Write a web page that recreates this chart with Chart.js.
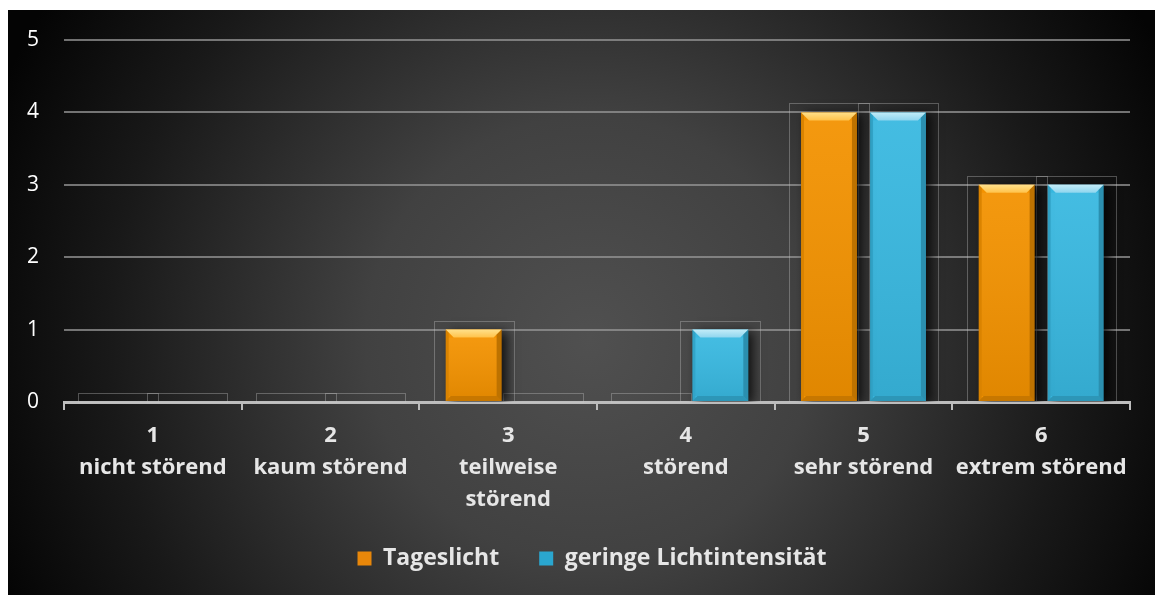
<!DOCTYPE html>
<html><head><meta charset="utf-8">
<script src="https://cdn.jsdelivr.net/npm/chart.js@4"></script>
<style>html,body{margin:0;padding:0;background:#fff;overflow:hidden}</style>
</head><body>
<canvas id="c" width="1155" height="595" style="display:block;width:1155px;height:595px"></canvas>
<script>
const categories = [["1","nicht störend"],["2","kaum störend"],["3","teilweise","störend"],["4","störend"],["5","sehr störend"],["6","extrem störend"]];
const seriesNames = ["Tageslicht","geringe Lichtintensität"];
const tageslicht = [0,0,1,0,4,3];
const geringeLicht = [0,0,0,1,4,3];
const yMin = 0, yMax = 5, yStep = 1;

const FONT = "'Open Sans', 'DejaVu Sans', sans-serif";
const colors = [
  {base:'#f39200', top:'#ffc24a', topEdge:'#ffe08a', legend:'#e8870a'},
  {base:'#38b8e0', top:'#8fd5ee', topEdge:'#c2ecf8', legend:'#2aa6cf'}
];

const bgPlugin = {
  id:'bg',
  beforeDraw(chart){
    const c = chart.ctx;
    c.save();
    c.fillStyle = '#ffffff';
    c.fillRect(0,0,chart.width,chart.height);
    const g = c.createRadialGradient(590,340,0,590,340,640);
    g.addColorStop(0,'#505050');
    g.addColorStop(0.35,'#414141');
    g.addColorStop(0.75,'#191919');
    g.addColorStop(1,'#040404');
    c.fillStyle = g;
    c.fillRect(8,10,chart.width-8,chart.height-10);
    c.restore();
  },
  afterLayout(chart){
    const lg = chart.legend;
    if (lg) { lg.left += 23; lg.right += 23; }
  }
};

const barFx = {
  id:'barFx',
  beforeDatasetsDraw(chart){
    const c = chart.ctx;
    c.save();
    c.strokeStyle = 'rgba(200,200,200,0.35)';
    c.lineWidth = 1;
    chart.data.datasets.forEach((ds,i)=>{
      chart.getDatasetMeta(i).data.forEach(el=>{
        const p = el.getProps(['x','y','base','width'], true);
        const l = p.x - p.width/2 - 12, r = p.x + p.width/2 + 12;
        const t = Math.min(p.y, p.base) - 9;
        c.strokeRect(Math.round(l)+0.5, Math.round(t)+0.5, Math.round(r-l), Math.round(p.base - t));
      });
    });
    c.restore();
    c.save();
    c.shadowColor = 'rgba(0,0,0,0.75)';
    c.shadowBlur = 10;
    c.shadowOffsetX = 5;
    c.shadowOffsetY = 2;
  },
  afterDatasetsDraw(chart){
    const c = chart.ctx;
    c.restore();
    c.save();
    chart.data.datasets.forEach((ds,i)=>{
      const col = colors[i];
      chart.getDatasetMeta(i).data.forEach(el=>{
        const p = el.getProps(['x','y','base','width'], true);
        const h = p.base - p.y;
        if (h < 2) return;
        const l = p.x - p.width/2, r = p.x + p.width/2, t = p.y, b = p.base;
        const bv = 8;
        const tg = c.createLinearGradient(0,t,0,t+bv);
        tg.addColorStop(0,col.topEdge);
        tg.addColorStop(1,col.top);
        c.fillStyle = tg;
        c.beginPath();
        c.moveTo(l,t); c.lineTo(r,t); c.lineTo(r-bv,t+bv); c.lineTo(l+bv,t+bv); c.closePath(); c.fill();
        c.fillStyle = 'rgba(0,0,0,0.10)';
        c.beginPath();
        c.moveTo(l,t); c.lineTo(l+3,t+3); c.lineTo(l+3,b-3); c.lineTo(l,b); c.closePath(); c.fill();
        c.fillStyle = 'rgba(0,0,0,0.22)';
        c.beginPath();
        c.moveTo(r,t); c.lineTo(r-5,t+5); c.lineTo(r-5,b-5); c.lineTo(r,b); c.closePath(); c.fill();
        c.fillStyle = 'rgba(0,0,0,0.18)';
        c.beginPath();
        c.moveTo(l,b); c.lineTo(l+5,b-5); c.lineTo(r-5,b-5); c.lineTo(r,b); c.closePath(); c.fill();
        const fg = c.createLinearGradient(0,t+bv,0,b);
        fg.addColorStop(0,'rgba(255,255,255,0.06)');
        fg.addColorStop(1,'rgba(0,0,0,0.08)');
        c.fillStyle = fg;
        c.fillRect(l+3,t+bv,r-l-8,b-t-bv-5);
      });
    });
    c.restore();
  }
};

new Chart(document.getElementById('c'), {
  type:'bar',
  data:{
    labels: categories,
    datasets:[
      {label:seriesNames[0], data:tageslicht, backgroundColor:colors[0].base, borderWidth:0, barPercentage:0.81, categoryPercentage:0.777},
      {label:seriesNames[1], data:geringeLicht, backgroundColor:colors[1].base, borderWidth:0, barPercentage:0.81, categoryPercentage:0.777}
    ]
  },
  options:{
    responsive:false,
    devicePixelRatio:1,
    animation:false,
    layout:{padding:{left:8,right:25,top:40,bottom:15}},
    plugins:{
      tooltip:{enabled:false},
      legend:{
        position:'bottom',
        labels:{
          boxWidth:14, boxHeight:14, padding:40,
          color:'#e6e6e6',
          font:{family:FONT, size:23, weight:'bold'},
          generateLabels(chart){
            return chart.data.datasets.map((d,i)=>({
              text:d.label, fillStyle:colors[i].legend, strokeStyle:colors[i].legend,
              lineWidth:0, datasetIndex:i, fontColor:'#e6e6e6', hidden:false
            }));
          }
        }
      }
    },
    scales:{
      x:{
        grid:{display:true, drawOnChartArea:false, drawTicks:true, tickLength:8, color:'#bdbdbd', lineWidth:2, offset:true},
        border:{display:true, color:'#bdbdbd', width:3},
        ticks:{color:'#e6e6e6', font:{family:FONT, size:22, weight:'bold', lineHeight:1.45}, padding:10, maxRotation:0, autoSkip:false},
        afterFit(s){ s.height = 105; }
      },
      y:{
        min:yMin, max:yMax,
        grid:{color:'rgba(150,150,150,0.75)', lineWidth:2, drawTicks:false},
        border:{display:false},
        ticks:{stepSize:yStep, color:'#ffffff', font:{family:FONT, size:21}, padding:25},
        afterFit(s){ s.width = 56; }
      }
    }
  },
  plugins:[bgPlugin, barFx]
});
</script>
</body></html>
